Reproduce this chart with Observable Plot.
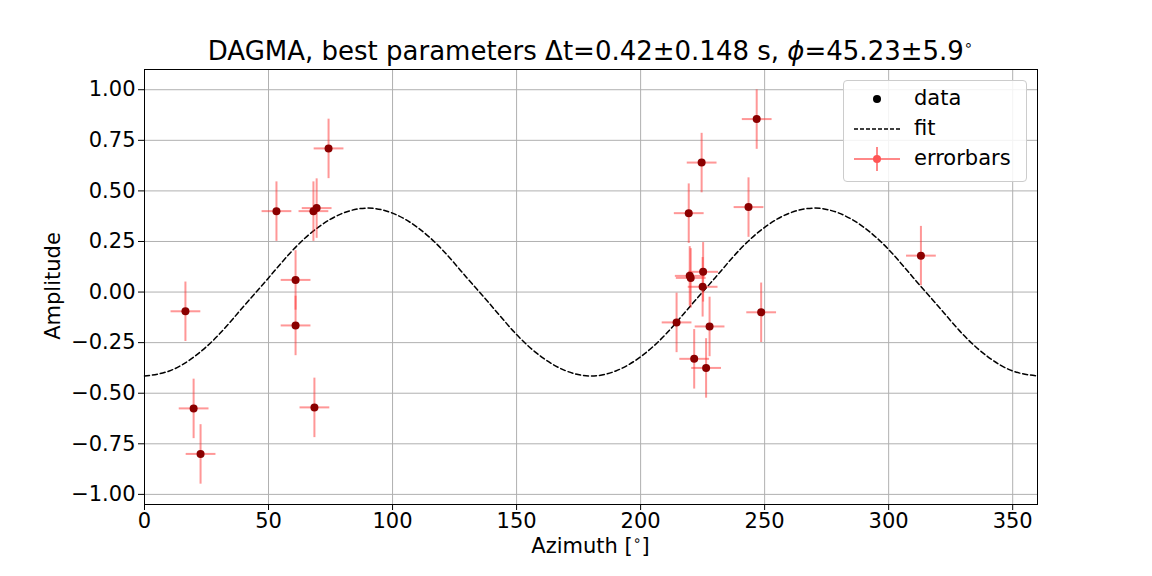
<!DOCTYPE html>
<html><head><meta charset="utf-8">
<script src="https://cdn.jsdelivr.net/npm/d3@7"></script>
<script src="https://cdn.jsdelivr.net/npm/@observablehq/plot@0.6"></script>
<style>
body{margin:0;background:#fff;font-family:"DejaVu Sans",sans-serif}
#wrap{position:relative;width:1152px;height:576px}
#title{position:absolute;top:36px;left:144px;width:893px;text-align:center;font-size:26px}
#xlabel{position:absolute;top:532px;left:144px;width:893px;text-align:center;font-size:21px}
#ylabel{position:absolute;left:-57px;top:274px;width:220px;text-align:center;font-size:21px;transform:rotate(-90deg)}
#legend{position:absolute;left:843px;top:80px;width:182px;height:100px;border:1px solid #ccc;border-radius:4px;background:rgba(255,255,255,0.85);font-size:21px}
#legend div{position:absolute;left:70px}
</style></head><body>
<div id="wrap"><div id="chart"></div>
<div id="title">DAGMA, best parameters Δt=0.42±0.148 s, <i>ϕ</i>=45.23±5.9<sup style="font-size:15px">∘</sup></div>
<div id="xlabel">Azimuth [<sup style="font-size:14px">∘</sup>]</div>
<div id="ylabel">Amplitude</div>
<div id="legend">
<svg width="70" height="100" style="position:absolute;left:0;top:0">
<circle cx="33" cy="18" r="4" fill="#000"/>
<line x1="10" x2="56" y1="48" y2="48" stroke="#000" stroke-dasharray="4,2" stroke-width="1.5"/>
<line x1="10" x2="56" y1="78" y2="78" stroke="#f88" stroke-width="2"/>
<line x1="33" x2="33" y1="66" y2="90" stroke="#f88" stroke-width="2"/>
<circle cx="33" cy="78" r="4" fill="#f55"/>
</svg>
<div style="top:5px">data</div><div style="top:35px">fit</div><div style="top:65px">errorbars</div>
</div></div>
<script>
const azimuth = [16.5,19.8,22.6,53.2,60.9,60.9,68.1,69.4,68.5,74.2,214.5,219.4,219.8,220.2,221.6,224.6,225.2,225,226.4,227.8,243.5,246.8,248.6,313];
const amplitude = [-0.095,-0.575,-0.80,0.40,0.06,-0.165,0.40,0.415,-0.57,0.71,-0.15,0.39,0.08,0.07,-0.33,0.64,0.10,0.026,-0.375,-0.17,0.42,0.855,-0.10,0.18];
const xErr = 6, yErr = 0.147;
const fitX = [0,10,20,30,40,50,60,70,80,90,100,110,120,130,140,150,160,170,180,190,200,210,220,230,240,250,260,270,280,290,300,310,320,330,340,350,360];
const fitY = [-0.415,-0.39,-0.32,-0.21,-0.07,0.07,0.21,0.32,0.39,0.415,0.39,0.32,0.21,0.07,-0.07,-0.21,-0.32,-0.39,-0.415,-0.39,-0.32,-0.21,-0.07,0.07,0.21,0.32,0.39,0.415,0.39,0.32,0.21,0.07,-0.07,-0.21,-0.32,-0.39,-0.415];
const pts = azimuth.map((x,i)=>({x, y: amplitude[i]}));
const fit = fitX.map((x,i)=>({x, y: fitY[i]}));
const fmt = d => d3.format(".2f")(d).replace("-","−");
const chart = Plot.plot({
  width:1152, height:576, marginTop:69, marginLeft:144, marginRight:115, marginBottom:72,
  style:{fontSize:"21px", fontFamily:"DejaVu Sans", color:"#000"},
  x:{domain:[0,360], ticks:d3.range(0,351,50), label:null, tickSize:6},
  y:{domain:[-1.05,1.1], ticks:d3.range(-1,1.01,0.25), tickFormat:fmt, label:null, tickSize:6},
  marks:[
    Plot.gridX(d3.range(0,351,50), {stroke:"#b0b0b0", strokeOpacity:1}),
    Plot.gridY(d3.range(-1,1.01,0.25), {stroke:"#b0b0b0", strokeOpacity:1}),
    Plot.frame({stroke:"#000"}),
    Plot.line(fit, {x:"x", y:"y", stroke:"#000", strokeDasharray:"5,3", strokeWidth:1.5, curve:"natural"}),
    Plot.link(pts, {x1:d=>d.x-xErr, x2:d=>d.x+xErr, y1:"y", y2:"y", stroke:"#ff3030", strokeOpacity:0.5, strokeWidth:2}),
    Plot.link(pts, {x1:"x", x2:"x", y1:d=>d.y-yErr, y2:d=>d.y+yErr, stroke:"#ff3030", strokeOpacity:0.5, strokeWidth:2}),
    Plot.dot(pts, {x:"x", y:"y", r:4, fill:"#8b0000"})
  ]
});
document.getElementById("chart").append(chart);
</script></body></html>
